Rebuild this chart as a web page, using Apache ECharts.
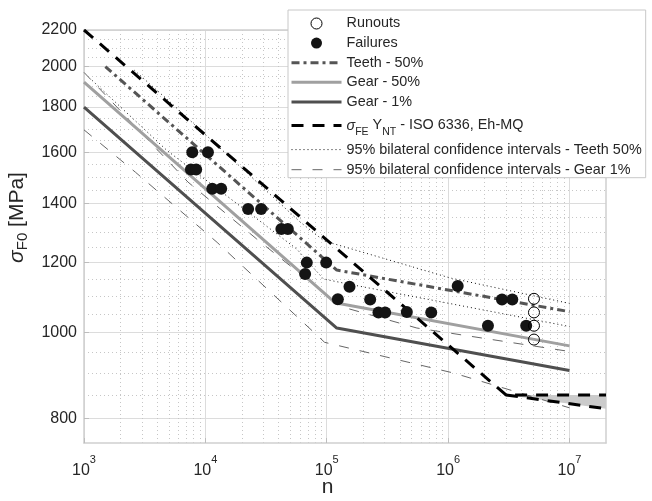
<!DOCTYPE html>
<html><head><meta charset="utf-8">
<script src="https://cdn.jsdelivr.net/npm/echarts@6/dist/echarts.min.js"></script>
<style>html,body{margin:0;padding:0;background:#fff}#c{width:652px;height:501px}</style>
</head><body><div id="c"></div>
<script>
const FONT = "'Liberation Sans', Arial, Helvetica, sans-serif";

// ---- tick labels ----
const xTickValues = [1e3, 1e4, 1e5, 1e6, 1e7];
const yTickValues = [800, 1000, 1200, 1400, 1600, 1800, 2000, 2200];

// ---- experimental points ----
const failN = [7800, 10500, 7600, 8400, 11400, 13500, 22500, 28800, 42300, 47800, 68500, 99000, 66400, 154000, 123500, 228000, 267000, 303000, 457000, 726000, 1200000, 2780000, 3380000, 2130000, 4400000];
const failS = [1600, 1600, 1530, 1530, 1455, 1455, 1380, 1380, 1310, 1310, 1200, 1200, 1165, 1127, 1091, 1090, 1054, 1054, 1055, 1054, 1129, 1090, 1090, 1018, 1018];
const runN = [5100000, 5100000, 5100000, 5100000];
const runS = [1092, 1054, 1018, 982];

// ---- curves ----
const teeth50N = [1500, 121000, 1e7];
const teeth50S = [2000, 1177, 1056];
const gear50N = [1000, 117000, 1e7];
const gear50S = [1921, 1081, 966];
const gear1N = [1000, 121000, 1e7];
const gear1S = [1800, 1012, 906];
const isoN = [1000, 3e6, 2e7];
const isoS = [2200, 850, 850];
const isoLowN = [3e6, 2e7];
const isoLowS = [850, 820];
const ciTeethUpN = [2600, 5300, 60000, 95000, 1040000, 1e7];
const ciTeethUpS = [1981, 1816, 1335, 1270, 1153, 1079];
const ciTeethLoN = [1164, 4831, 56700, 93900, 150000, 1e7];
const ciTeethLoS = [1930, 1607, 1243, 1150, 1135, 1016];
const ciGearUpN = [1000, 7200, 26500, 131500, 553000, 1e7];
const ciGearUpS = [1970, 1480, 1276, 1070, 1012, 952];
const ciGearLoN = [1000, 2650, 12500, 96000, 1110000, 1e7];
const ciGearLoS = [1696, 1519, 1265, 975, 900, 822];

const NAME_RUN = 'Runouts', NAME_FAIL = 'Failures', NAME_T50 = 'Teeth - 50%', NAME_G50 = 'Gear - 50%', NAME_G1 = 'Gear - 1%';
const NAME_ISO = 'σFE YNT - ISO 6336, Eh-MQ';
const NAME_CIT = '95% bilateral confidence intervals - Teeth 50%';
const NAME_CIG = '95% bilateral confidence intervals - Gear 1%';

// minor grid positions
const xMinor = [];
for (let k = 3; k <= 6; k++) for (let m = 2; m <= 9; m++) xMinor.push(m * Math.pow(10, k));
const yMinor = [];
for (let v = 800; v < 2200; v += 50) if (v % 200 !== 0) yMinor.push(v);

const pairs = (ns, ss) => ns.map((n, i) => [n, ss[i]]);

function lineSeries(name, ns, ss, color, width, type, z) {
  return {
    type: 'line', name, data: pairs(ns, ss), xAxisIndex: 0, yAxisIndex: 0,
    showSymbol: false, symbol: 'none', silent: true, z,
    lineStyle: { color, width, type, cap: 'butt' },
    itemStyle: { color, opacity: 0 },
    emphasis: { disabled: true }
  };
}

const chart = echarts.init(document.getElementById('c'), null, { renderer: 'canvas' });
const frame = { show: true, onZero: false, lineStyle: { color: '#cfcfcf', width: 1.5 } };
const minorSplit = { show: true, lineStyle: { color: '#c6c6c6', width: 1, type: [1, 3] } };

const option = {
  animation: false,
  backgroundColor: '#fff',
  textStyle: { fontFamily: FONT },
  grid: { left: 84, right: 46, top: 30, bottom: 58, containLabel: false, outerBoundsMode: 'none' },
  xAxis: [
    {
      type: 'log', min: 1e3, max: 2e7, position: 'bottom', gridIndex: 0,
      axisLine: frame,
      axisTick: { show: true, inside: true, length: 5, customValues: xTickValues, lineStyle: { color: '#bdbdbd' } },
      axisLabel: {
        customValues: xTickValues, margin: 11.5, color: '#262626',
        formatter: v => '{b|10}{s|' + Math.round(Math.log10(v)) + '}',
        rich: {
          b: { fontSize: 16, lineHeight: 24, verticalAlign: 'bottom', color: '#262626', fontFamily: FONT },
          s: { fontSize: 11, lineHeight: 11, verticalAlign: 'top', color: '#262626', fontFamily: FONT }
        }
      },
      splitLine: { show: true, lineStyle: { color: '#dcdcdc', width: 1 } },
      name: 'n', nameLocation: 'middle', nameGap: 34, nameMoveOverlap: false,
      nameTextStyle: { fontSize: 21, color: '#262626', fontFamily: FONT, padding: [0, 35, 0, 0] }
    },
    {
      type: 'log', min: 1e3, max: 2e7, position: 'top', gridIndex: 0,
      axisLine: frame,
      axisTick: { show: false, customValues: xMinor },
      axisLabel: { show: false },
      splitLine: minorSplit
    }
  ],
  yAxis: [
    {
      type: 'log', min: 750, max: 2200, position: 'left', gridIndex: 0,
      axisLine: frame,
      axisTick: { show: true, inside: true, length: 5, customValues: yTickValues, lineStyle: { color: '#bdbdbd' } },
      axisLabel: {
        customValues: yTickValues, margin: 7, fontSize: 16, color: '#262626', fontFamily: FONT,
        formatter: v => String(Math.round(v))
      },
      splitLine: { show: true, lineStyle: { color: '#dcdcdc', width: 1 } },
      name: '{i|σ}{s|F0}{b| [MPa]}', nameLocation: 'middle', nameRotate: 90, nameGap: 50,
      nameTextStyle: {
        color: '#262626', padding: [0, 0, 0, 38],
        rich: {
          i: { fontSize: 21, lineHeight: 26, fontStyle: 'italic', color: '#262626', fontFamily: FONT },
          s: { fontSize: 15, lineHeight: 14, verticalAlign: 'bottom', color: '#262626', fontFamily: FONT },
          b: { fontSize: 21, lineHeight: 26, color: '#262626', fontFamily: FONT }
        }
      }
    },
    {
      type: 'log', min: 750, max: 2200, position: 'right', gridIndex: 0,
      axisLine: frame,
      axisTick: { show: false, customValues: yMinor },
      axisLabel: { show: false },
      splitLine: minorSplit
    }
  ],
  legend: {
    orient: 'vertical', left: 288, top: 10, padding: [5.5, 4, 0, 2], itemGap: 3.6,
    itemWidth: 50, itemHeight: 11, selectedMode: false,
    backgroundColor: '#fff', borderColor: '#c8c8c8', borderWidth: 1, borderRadius: 0,
    lineStyle: { width: 'inherit' },
    textStyle: {
      fontSize: 14.4, lineHeight: 16, color: '#262626', fontFamily: FONT,
      rich: {
        i: { fontSize: 14.4, lineHeight: 24, fontStyle: 'italic', color: '#262626', fontFamily: FONT },
        b: { fontSize: 14.4, lineHeight: 24, color: '#262626', fontFamily: FONT },
        s: { fontSize: 10.5, lineHeight: 12, verticalAlign: 'bottom', color: '#262626', fontFamily: FONT }
      }
    },
    formatter: name => name === NAME_ISO ? '{i|σ}{s|FE}{b| Y}{s|NT}{b| - ISO 6336, Eh-MQ}' : name,
    data: [
      { name: NAME_RUN, itemStyle: { borderWidth: 1, borderColor: '#000', color: 'rgba(0,0,0,0)' } },
      { name: NAME_FAIL },
      { name: NAME_T50, itemStyle: { opacity: 0 } },
      { name: NAME_G50, itemStyle: { opacity: 0 } },
      { name: NAME_G1, itemStyle: { opacity: 0 } },
      { name: NAME_ISO, itemStyle: { opacity: 0 } },
      { name: NAME_CIT, itemStyle: { opacity: 0 }, textStyle: { lineHeight: 17 } },
      { name: NAME_CIG, itemStyle: { opacity: 0 } }
    ]
  },
  series: [
    {
      type: 'custom', name: 'isoBand', xAxisIndex: 0, yAxisIndex: 0, silent: true, z: 1,
      data: [[isoLowN[0], isoLowS[0]]],
      renderItem: (params, api) => {
        const pts = [];
        for (let i = 1; i < isoN.length; i++) pts.push(api.coord([isoN[i], isoS[i]]));
        for (let i = isoLowN.length - 1; i >= 0; i--) pts.push(api.coord([isoLowN[i], isoLowS[i]]));
        return { type: 'polygon', shape: { points: pts }, style: { fill: '#cbcbcb' } };
      }
    },
    lineSeries(NAME_CIG, ciGearUpN, ciGearUpS, '#666666', 1, [10, 11], 2),
    lineSeries(NAME_CIG, ciGearLoN, ciGearLoS, '#666666', 1, [10, 11], 2),
    lineSeries(NAME_CIT, ciTeethUpN, ciTeethUpS, '#111111', 1, [1, 3], 2),
    lineSeries(NAME_CIT, ciTeethLoN, ciTeethLoS, '#111111', 1, [1, 3], 2),
    lineSeries(NAME_G50, gear50N, gear50S, '#a0a0a0', 3, 'solid', 3),
    lineSeries(NAME_G1, gear1N, gear1S, '#4f4f4f', 3, 'solid', 3),
    lineSeries(NAME_T50, teeth50N, teeth50S, '#555555', 3, [8, 4, 3, 4], 3),
    lineSeries(NAME_ISO, isoN, isoS, '#000000', 3, [12, 9], 4),
    lineSeries(NAME_ISO, isoLowN, isoLowS, '#000000', 3, [12, 9], 4),
    {
      type: 'scatter', name: NAME_FAIL, data: pairs(failN, failS), xAxisIndex: 0, yAxisIndex: 0,
      symbol: 'circle', symbolSize: 12, silent: true, z: 5,
      itemStyle: { color: '#141414', opacity: 1 }
    },
    {
      type: 'scatter', name: NAME_RUN, data: pairs(runN, runS), xAxisIndex: 0, yAxisIndex: 0,
      symbol: 'circle', symbolSize: 11, silent: true, z: 6,
      itemStyle: { color: 'rgba(0,0,0,0)', borderColor: '#000', borderWidth: 1, opacity: 1 }
    }
  ]
};
chart.setOption(option);
</script>
</body></html>
